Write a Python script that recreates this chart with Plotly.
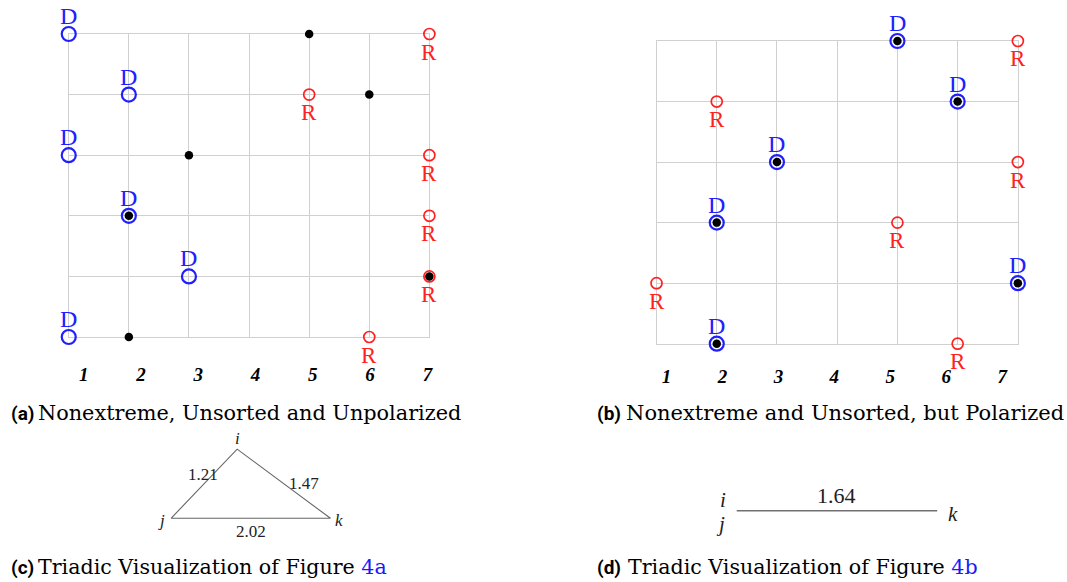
import math
import plotly.graph_objects as go

# ---------------- data ----------------
columns = [1, 2, 3, 4, 5, 6, 7]
tick_labels = ["1", "2", "3", "4", "5", "6", "7"]
rows = [6, 5, 4, 3, 2, 1]          # top row first

a_dem = [1, 2, 1, 2, 3, 1]
a_rep = [7, 5, 7, 7, 7, 6]
a_voter = [5, 6, 3, 2, 7, 2]

b_dem = [5, 6, 3, 2, 7, 2]
b_rep = [7, 2, 7, 5, 1, 6]
b_voter = [5, 6, 3, 2, 7, 2]

dist_ij = 1.21
dist_ik = 1.47
dist_jk = 2.02
dist_b = 1.64

cap_a = ("(a)", "Nonextreme, Unsorted and Unpolarized")
cap_b = ("(b)", "Nonextreme and Unsorted, but Polarized")
cap_c = ("(c)", "Triadic Visualization of Figure ", "4a")
cap_d = ("(d)", "Triadic Visualization of Figure ", "4b")

# ---------------- layout helpers ----------------
W, H = 1067, 582
BLUE = "#2020ff"
RED = "#ff2020"
GRID = "#d0d0d0"
SERIF = "Liberation Serif"
CAPSERIF = "DejaVu Serif"


def dx(p):
    return p / W


def dy(p):
    return 1 - p / H


fig = go.Figure()
annotations = []

grid_common = dict(showgrid=True, gridcolor=GRID, gridwidth=1.3, showline=True,
                   mirror=True, linecolor=GRID, linewidth=1.3, zeroline=False,
                   showticklabels=False, ticks="", fixedrange=True, layer="below traces")


def grid_panel(idx, xl, xr, yt, yb, dem, rep, voter, lab_first, lab_last, standoff, tick_ax):
    xa = "x" if idx == 1 else f"x{idx}"
    ya = "y" if idx == 1 else f"y{idx}"
    xkey = "xaxis" if idx == 1 else f"xaxis{idx}"
    ykey = "yaxis" if idx == 1 else f"yaxis{idx}"
    fig.update_layout({
        xkey: dict(domain=[dx(xl), dx(xr)], range=[columns[0], columns[-1]],
                   tickvals=columns, anchor=ya, **grid_common),
        ykey: dict(domain=[dy(yb), dy(yt)], range=[min(rows), max(rows)],
                   tickvals=rows, anchor=xa, **grid_common),
    })
    # tick-label axis (labels sit on their own spacing)
    s = (lab_last - lab_first) / (columns[-1] - columns[0])
    r0 = columns[0] - (lab_first - xl) / s
    r1 = columns[0] + (xr - lab_first) / s
    fig.update_layout({
        f"xaxis{tick_ax}": dict(overlaying=xa, anchor=ya, side="bottom", range=[r0, r1],
                                tickvals=columns, ticktext=tick_labels, showgrid=False,
                                zeroline=False, showline=False, ticks="",
                                ticklabelstandoff=standoff, fixedrange=True,
                                tickfont=dict(family=SERIF, size=19, color="black",
                                              weight="bold", style="italic"))
    })
    fig.add_trace(go.Scatter(x=[], y=[], mode="markers", xaxis=f"x{tick_ax}", yaxis=ya,
                             hoverinfo="skip"))
    fig.add_trace(go.Scatter(x=dem, y=rows, mode="markers", xaxis=xa, yaxis=ya,
                             cliponaxis=False, hoverinfo="skip",
                             marker=dict(symbol="circle-open", size=14, color=BLUE,
                                         line=dict(width=2.2))))
    fig.add_trace(go.Scatter(x=rep, y=rows, mode="markers", xaxis=xa, yaxis=ya,
                             cliponaxis=False, hoverinfo="skip",
                             marker=dict(symbol="circle-open", size=11, color=RED,
                                         line=dict(width=1.7))))
    fig.add_trace(go.Scatter(x=voter, y=rows, mode="markers", xaxis=xa, yaxis=ya,
                             cliponaxis=False, hoverinfo="skip",
                             marker=dict(symbol="circle", size=8.5, color="black")))
    for c, r in zip(dem, rows):
        annotations.append(dict(x=c, y=r, xref=xa, yref=ya, text="D", showarrow=False,
                                yshift=18, font=dict(family=SERIF, size=24, color=BLUE)))
    for c, r in zip(rep, rows):
        annotations.append(dict(x=c, y=r, xref=xa, yref=ya, text="R", showarrow=False,
                                yshift=-18, font=dict(family=SERIF, size=23, color=RED)))


grid_panel(1, 69, 431, 34, 337, a_dem, a_rep, a_voter, 84, 429, 24, 5)
grid_panel(2, 659, 1021.7, 41, 343.7, b_dem, b_rep, b_voter, 669, 1006, 19, 6)

# ---------------- triadic panel (c) ----------------
xi = (dist_ij ** 2 - dist_ik ** 2 + dist_jk ** 2) / (2 * dist_jk)
yi = math.sqrt(max(dist_ij ** 2 - xi ** 2, 0))
tri_x = [0, dist_jk, xi, 0]
tri_y = [0, 0, yi, 0]
sc = (331.7 - 171.7) / dist_jk
jx, jy = 171.7, 518.3
cxl, cxr, cyt, cyb = 120, 380, 425, 545
fig.update_layout(
    xaxis3=dict(domain=[dx(cxl), dx(cxr)], range=[-(jx - cxl) / sc, (cxr - jx) / sc],
                visible=False, fixedrange=True),
    yaxis3=dict(domain=[dy(cyb), dy(cyt)], range=[-(cyb - jy) / sc, (jy - cyt) / sc],
                visible=False, fixedrange=True, anchor="x3"),
)
fig.add_trace(go.Scatter(x=tri_x, y=tri_y, mode="lines", xaxis="x3", yaxis="y3",
                         line=dict(color="#666666", width=1.1), hoverinfo="skip",
                         cliponaxis=False))
vfont = dict(family=SERIF, size=17, color="#222222", style="italic")
nfont = dict(family=SERIF, size=17, color="#222222")
annotations += [
    dict(x=xi, y=yi, xref="x3", yref="y3", text="i", showarrow=False, yshift=11, font=vfont),
    dict(x=0, y=0, xref="x3", yref="y3", text="j", showarrow=False, xshift=-10, yshift=-2, font=vfont),
    dict(x=dist_jk, y=0, xref="x3", yref="y3", text="k", showarrow=False, xshift=9, yshift=-2, font=vfont),
    dict(x=xi / 2, y=yi / 2, xref="x3", yref="y3", text=f"{dist_ij:.2f}", showarrow=False,
         xshift=-1, yshift=9, font=nfont),
    dict(x=(xi + dist_jk) / 2, y=yi / 2, xref="x3", yref="y3", text=f"{dist_ik:.2f}",
         showarrow=False, xshift=20, yshift=0, font=nfont),
    dict(x=dist_jk / 2, y=0, xref="x3", yref="y3", text=f"{dist_jk:.2f}", showarrow=False,
         yshift=-13, font=nfont),
]

# ---------------- triadic panel (d) ----------------
sd = (940.7 - 739.5) / dist_b
lx, ly = 739.5, 510.7
dxl, dxr, dyt, dyb = 690, 990, 470, 545
fig.update_layout(
    xaxis4=dict(domain=[dx(dxl), dx(dxr)], range=[-(lx - dxl) / sd, (dxr - lx) / sd],
                visible=False, fixedrange=True),
    yaxis4=dict(domain=[dy(dyb), dy(dyt)], range=[-(dyb - ly) / sd, (ly - dyt) / sd],
                visible=False, fixedrange=True, anchor="x4"),
)
fig.add_trace(go.Scatter(x=[0, dist_b], y=[0, 0], mode="lines", xaxis="x4", yaxis="y4",
                         line=dict(color="#707070", width=1.6), hoverinfo="skip",
                         cliponaxis=False))
vfont2 = dict(family=SERIF, size=21, color="#222222", style="italic")
annotations += [
    dict(x=0, y=0, xref="x4", yref="y4", text="i", showarrow=False, xshift=-14, yshift=11, font=vfont2),
    dict(x=0, y=0, xref="x4", yref="y4", text="j", showarrow=False, xshift=-16, yshift=-13, font=vfont2),
    dict(x=dist_b, y=0, xref="x4", yref="y4", text="k", showarrow=False, xshift=16, yshift=-3, font=vfont2),
    dict(x=dist_b / 2, y=0, xref="x4", yref="y4", text=f"{dist_b:.2f}", showarrow=False,
         yshift=15, font=dict(family=SERIF, size=22, color="#222222")),
]

# ---------------- captions ----------------
LAB = dict(family="Roboto", size=19, color="black", weight="bold")


def caption(lab, text, x_lab, x_text, y_mid, size, link=None):
    annotations.append(dict(x=dx(x_lab), y=dy(y_mid), xref="paper", yref="paper",
                            xanchor="left", yanchor="middle", text=f"<b>{lab}</b>",
                            showarrow=False, font=LAB, borderpad=0))
    t = text if link is None else text + f"<span style='color:#1a1aff'>{link}</span>"
    annotations.append(dict(x=dx(x_text), y=dy(y_mid), xref="paper", yref="paper",
                            xanchor="left", yanchor="middle", text=t,
                            showarrow=False, font=dict(family=CAPSERIF, size=size, color="black"),
                            borderpad=0))


caption(cap_a[0], cap_a[1], 10, 37, 413, 20.8)
caption(cap_b[0], cap_b[1], 598, 627, 413, 21)
caption(cap_c[0], cap_c[1], 10, 37, 567, 20.6, cap_c[2])
caption(cap_d[0], cap_d[1], 598, 629, 567, 20.6, cap_d[2])

fig.update_layout(width=W, height=H, autosize=False,
                  margin=dict(l=0, r=0, t=0, b=0),
                  paper_bgcolor="white", plot_bgcolor="rgba(0,0,0,0)",
                  showlegend=False, annotations=annotations)

fig.write_html("out.html")
